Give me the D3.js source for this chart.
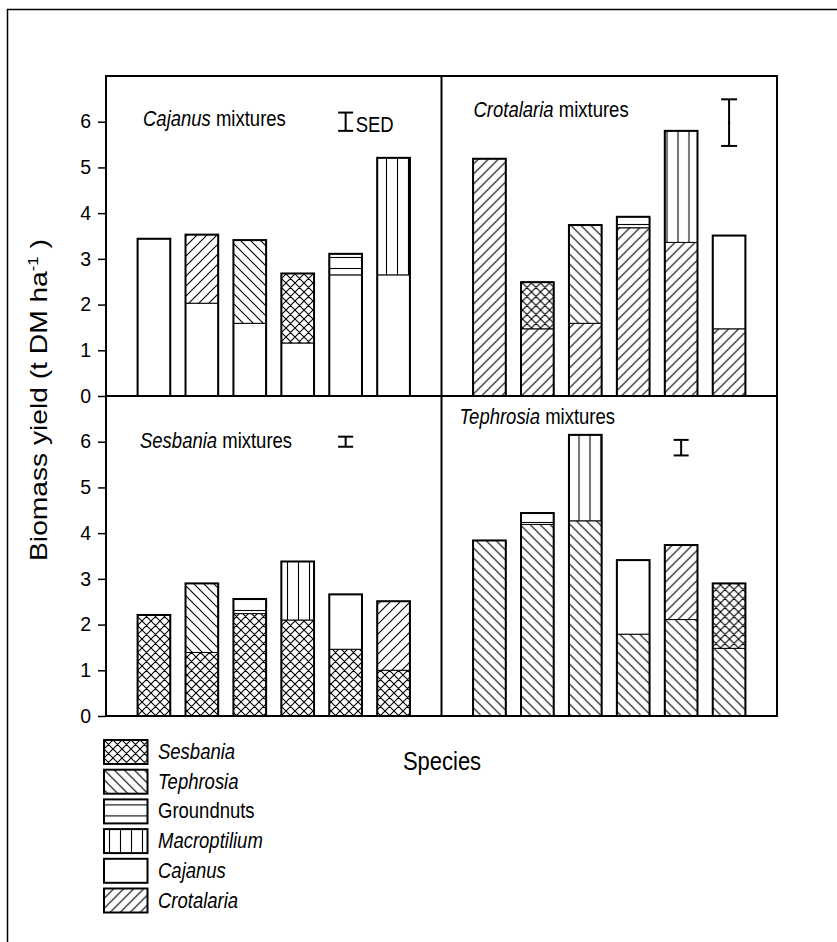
<!DOCTYPE html>
<html>
<head>
<meta charset="utf-8">
<script src="https://cdn.jsdelivr.net/npm/d3@7"></script>
<style>
  body { margin: 0; background: #fff; }
  svg text { font-family: "Liberation Sans", Arial, sans-serif; fill: #000; }
</style>
</head>
<body>
<svg id="chart"></svg>
<script>
// legend order (top to bottom)
const species = ["Sesbania", "Tephrosia", "Groundnuts", "Macroptilium", "Cajanus", "Crotalaria"];
const panels = ["Cajanus", "Crotalaria", "Sesbania", "Tephrosia"];

// partner species stacked on top of the panel species, per bar
const cajanusPartner = [null, "Crotalaria", "Tephrosia", "Sesbania", "Groundnuts", "Macroptilium"];
const cajanusLower = [3.44, 2.03, 1.59, 1.16, 2.65, 2.65];
const cajanusTotal = [3.44, 3.53, 3.41, 2.68, 3.11, 5.21];

const crotalariaPartner = [null, "Sesbania", "Tephrosia", "Groundnuts", "Macroptilium", "Cajanus"];
const crotalariaLower = [5.19, 1.47, 1.59, 3.68, 3.36, 1.47];
const crotalariaTotal = [5.19, 2.49, 3.74, 3.92, 5.80, 3.51];

const sesbaniaPartner = [null, "Tephrosia", "Groundnuts", "Macroptilium", "Cajanus", "Crotalaria"];
const sesbaniaLower = [2.21, 1.39, 2.24, 2.10, 1.46, 1.00];
const sesbaniaTotal = [2.21, 2.90, 2.56, 3.38, 2.66, 2.51];

const tephrosiaPartner = [null, "Groundnuts", "Macroptilium", "Cajanus", "Crotalaria", "Sesbania"];
const tephrosiaLower = [3.84, 4.19, 4.27, 1.79, 2.11, 1.48];
const tephrosiaTotal = [3.84, 4.44, 6.15, 3.41, 3.74, 2.90];

// SED bars: centre value, half length, which bar it sits over
const sedCentre = [6.0, 5.98, 6.0, 5.87];
const sedHalf = [0.2, 0.51, 0.11, 0.17];
const sedBar = [5, 6, 5, 5];

const yTicks = [0, 1, 2, 3, 4, 5, 6];

const partners = [cajanusPartner, crotalariaPartner, sesbaniaPartner, tephrosiaPartner];
const lowers = [cajanusLower, crotalariaLower, sesbaniaLower, tephrosiaLower];
const totals = [cajanusTotal, crotalariaTotal, sesbaniaTotal, tephrosiaTotal];

const W = 837, H = 942;
const plotLeft = 106, plotTop = 76, panelW = 335.5, panelH = 320;
const stretch = 1.15; // text in the original is a little tall for its width

const svg = d3.select("#chart").attr("width", W).attr("height", H);

// hatch patterns
const defs = svg.append("defs");
function pattern(id, size, d) {
  const p = defs.append("pattern")
    .attr("id", id)
    .attr("patternUnits", "userSpaceOnUse")
    .attr("width", size).attr("height", size);
  p.append("rect").attr("width", size).attr("height", size).attr("fill", "#fff");
  if (d) p.append("path").attr("d", d).attr("stroke", "#000").attr("stroke-width", 1.1).attr("fill", "none");
}
const s1 = 9, s2 = 10;
pattern("Sesbania", s1, `M0,0L${s1},${s1}M0,${s1}L${s1},0M-1,1L1,-1M${s1 - 1},${s1 + 1}L${s1 + 1},${s1 - 1}M-1,${s1 - 1}L1,${s1 + 1}M${s1 - 1},-1L${s1 + 1},1`);
pattern("Tephrosia", s2, `M0,0L${s2},${s2}M-1,${s2 - 1}L1,${s2 + 1}M${s2 - 1},-1L${s2 + 1},1`);
pattern("Crotalaria", s2, `M0,${s2}L${s2},0M-1,1L1,-1M${s2 - 1},${s2 + 1}L${s2 + 1},${s2 - 1}`);
pattern("Groundnuts", 11, "M0,5.5H11");
pattern("Macroptilium", 11, "M5.5,0V11");
pattern("Cajanus", 10, null);

const italic = sp => sp !== "Groundnuts";

// text placed at (x, y) and stretched vertically
function label(parent, xPos, yPos, size) {
  return parent.append("text")
    .attr("transform", `translate(${xPos},${yPos}) scale(1,${stretch})`)
    .style("font-size", size + "px");
}

// outer frame (runs off the page at right and bottom)
svg.append("rect")
  .attr("x", 7.5).attr("y", 9.5)
  .attr("width", 900).attr("height", 1000)
  .attr("fill", "none").attr("stroke", "#000").attr("stroke-width", 1.5);

const y = d3.scaleLinear().domain([0, 7]).range([panelH, 0]);
const x = d3.scaleBand().domain(d3.range(1, 7)).range([0, panelW])
  .paddingInner(0.318).paddingOuter(0.659);

panels.forEach((name, i) => {
  const col = i % 2, row = Math.floor(i / 2);
  const g = svg.append("g")
    .attr("transform", `translate(${plotLeft + col * panelW},${plotTop + row * panelH})`);

  const bars = d3.range(6).map(k => ({
    k: k + 1,
    lower: lowers[i][k],
    total: totals[i][k],
    partner: partners[i][k]
  }));

  // lower segment: the panel species
  g.selectAll("rect.low")
    .data(bars)
    .join("rect")
    .attr("class", "low")
    .attr("x", d => x(d.k))
    .attr("y", d => y(d.lower))
    .attr("width", x.bandwidth())
    .attr("height", d => y(0) - y(d.lower))
    .attr("fill", `url(#${name})`)
    .attr("stroke", "#000").attr("stroke-width", 1);

  // upper segment: partner species
  g.selectAll("rect.up")
    .data(bars.filter(d => d.partner))
    .join("rect")
    .attr("class", "up")
    .attr("x", d => x(d.k))
    .attr("y", d => y(d.total))
    .attr("width", x.bandwidth())
    .attr("height", d => y(d.lower) - y(d.total))
    .attr("fill", d => `url(#${d.partner})`)
    .attr("stroke", "#000").attr("stroke-width", 1);

  // heavy outline round the whole bar
  g.selectAll("rect.out")
    .data(bars)
    .join("rect")
    .attr("class", "out")
    .attr("x", d => x(d.k))
    .attr("y", d => y(d.total))
    .attr("width", x.bandwidth())
    .attr("height", d => y(0) - y(d.total))
    .attr("fill", "none")
    .attr("stroke", "#000").attr("stroke-width", 2);

  // panel title
  const tx = [37, 32, 34, 18][i];
  const ty = [126, 117, 448, 424][i] - plotTop - row * panelH;
  const title = label(g, tx, ty, 18.5);
  title.append("tspan").style("font-style", "italic").text(name);
  title.append("tspan").text(" mixtures");

  // SED bar
  const sx = x(sedBar[i]) + x.bandwidth() / 2;
  const capW = i === 1 ? 16 : 15;
  const sed = g.append("g").attr("stroke", "#000").attr("stroke-width", 2);
  sed.append("line")
    .attr("x1", sx).attr("x2", sx)
    .attr("y1", y(sedCentre[i] + sedHalf[i])).attr("y2", y(sedCentre[i] - sedHalf[i]));
  [sedCentre[i] + sedHalf[i], sedCentre[i] - sedHalf[i]].forEach(v => {
    sed.append("line")
      .attr("x1", sx - capW / 2).attr("x2", sx + capW / 2)
      .attr("y1", y(v)).attr("y2", y(v));
  });
  if (i === 1) {
    g.append("circle").attr("cx", sx).attr("cy", y(sedCentre[i])).attr("r", 1.2).attr("fill", "#000");
  }
  if (i === 0) {
    label(g, sx + 10, y(sedCentre[i] - sedHalf[i]) + 1, 18.5).text("SED");
  }

  // y axis on the left column
  if (col === 0) {
    const axis = g.append("g")
      .call(d3.axisLeft(y).tickValues(yTicks).tickSize(8).tickPadding(7).tickFormat(d3.format("d")));
    axis.select(".domain").remove();
    axis.selectAll(".tick line").attr("stroke-width", 1.5);
    axis.selectAll(".tick text")
      .style("font-size", "19.5px")
      .style("font-family", "Liberation Sans, Arial, sans-serif");
  }
});

// panel frame and dividers
const frame = svg.append("g").attr("fill", "none").attr("stroke", "#000").attr("stroke-width", 2);
frame.append("rect")
  .attr("x", plotLeft).attr("y", plotTop)
  .attr("width", panelW * 2).attr("height", panelH * 2);
frame.append("line")
  .attr("x1", plotLeft + panelW).attr("x2", plotLeft + panelW)
  .attr("y1", plotTop).attr("y2", plotTop + panelH * 2);
frame.append("line")
  .attr("x1", plotLeft).attr("x2", plotLeft + panelW * 2)
  .attr("y1", plotTop + panelH).attr("y2", plotTop + panelH);

// axis titles
const yl = svg.append("text")
  .attr("transform", `translate(47,400) rotate(-90) scale(1.2,1)`)
  .attr("text-anchor", "middle")
  .style("font-size", "23.5px");
yl.append("tspan").text("Biomass yield (t DM ha");
yl.append("tspan").attr("dy", -9).style("font-size", "14px").text("-1");
yl.append("tspan").attr("dy", 9).text(" )");

label(svg, 442, 770, 22)
  .attr("text-anchor", "middle")
  .text("Species");

// legend
const legend = svg.append("g").attr("transform", "translate(104,740)");
const item = legend.selectAll("g")
  .data(species)
  .join("g")
  .attr("transform", (d, i) => `translate(0,${i * 29.7})`);
item.append("rect")
  .attr("width", 43.5).attr("height", 24)
  .attr("fill", d => `url(#${d})`)
  .attr("stroke", "#000").attr("stroke-width", 2);
item.append("text")
  .attr("transform", `translate(54,19) scale(1,${stretch})`)
  .style("font-size", "18.5px")
  .style("font-style", d => italic(d) ? "italic" : "normal")
  .text(d => d);
</script>
</body>
</html>
